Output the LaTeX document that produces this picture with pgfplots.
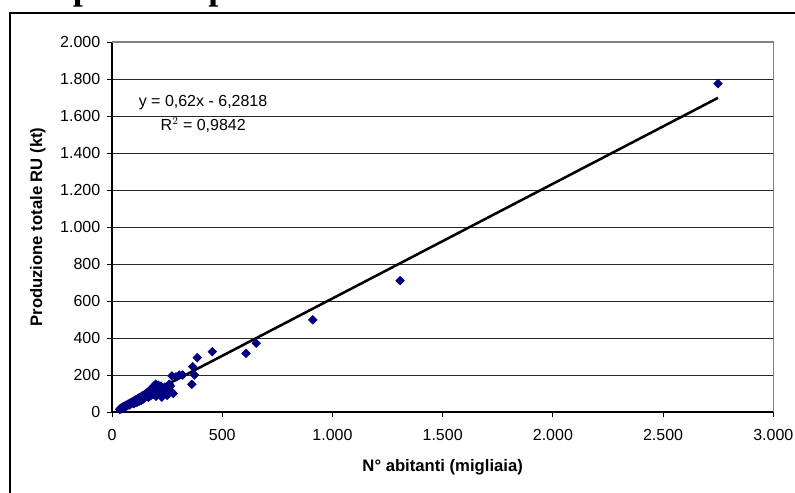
\documentclass[border=0pt]{standalone}
\usepackage{pgfplots}
\pgfplotsset{compat=1.18}
\usepackage{fontspec}
\setmainfont{Liberation Sans}
\newfontfamily\titlefont{Liberation Serif}

\definecolor{navymark}{RGB}{0,0,128}

% abitanti (migliaia) vs produzione totale RU (kt), one row per provincia
\pgfplotstableread{
x y
35 14
38 18
40 20
42 17
45 22
48 25
50 28
52 24
55 30
58 27
60 33
62 36
65 31
68 38
70 35
72 42
75 40
78 45
80 38
82 48
85 44
88 52
90 47
92 55
95 50
98 58
100 45
102 62
105 55
108 66
110 60
112 52
115 70
118 63
120 75
122 58
125 68
128 80
130 72
132 62
135 85
138 76
140 90
142 70
145 82
148 95
150 78
152 88
155 100
158 84
160 105
162 92
165 80
168 110
170 96
172 118
175 88
178 125
180 102
183 130
185 95
188 112
190 140
193 105
195 120
198 150
200 85
203 132
206 110
210 145
214 98
218 125
222 140
226 80
230 115
235 95
240 135
245 105
250 90
255 120
260 150
265 140
270 110
272 195
278 100
290 190
305 200
320 200
362 150
366 245
374 200
387 294
455 326
608 317
654 372
911 498
1307 710
2749 1775
}\datatable

\begin{document}
\begin{tikzpicture}
\useasboundingbox (0,0) rectangle (596.25pt,-369pt);
% chart area frame
\draw[line width=1pt] (7.5pt,-9.75pt) rectangle (610pt,-380pt);
% title above the chart (only its lowest part lies on the page)
\node[anchor=base west, inner sep=0pt, font=\titlefont\bfseries\fontsize{27}{30}\selectfont] at (54.5pt,0.3pt) {p};
\node[anchor=base west, inner sep=0pt, font=\titlefont\bfseries\fontsize{27}{30}\selectfont] at (156pt,0.3pt) {p};

\begin{axis}[
  at={(84pt,-309pt)}, anchor=south west,
  scale only axis, width=496pt, height=277.5pt,
  xmin=0, xmax=3000, ymin=0, ymax=2000,
  xtick distance=500, ytick distance=200,
  scaled ticks=false,
  axis lines*=left,
  axis line style={-, black, line width=0.9pt},
  tick align=outside,
  major tick length=3.75pt,
  tick style={black, line width=0.75pt},
  ymajorgrids,
  grid style={black!85, line width=0.75pt},
  /pgf/number format/.cd, 1000 sep={.}, assume math mode=true,
  /pgfplots/.cd,
  tick label style={font=\fontsize{12}{14}\selectfont},
  xticklabel style={yshift=-5.5pt},
  yticklabel style={xshift=-1.5pt},
  xlabel={N° abitanti (migliaia)},
  ylabel={Produzione totale RU (kt)},
  label style={font=\bfseries\fontsize{12.5}{15}\selectfont},
  xlabel style={at={(axis description cs:0.5,-0.149)}, anchor=center},
  ylabel style={at={(axis description cs:-0.112,0.5)}, anchor=center},
  clip=false,
]
\addplot[only marks, mark=square*, mark size=2.3pt,
  mark options={rotate=45, fill=navymark, draw=navymark}] table[x=x, y=y] {\datatable};
% linear trend line y = 0,62x - 6,2818
\addplot[black, line width=1.9pt, no marks] coordinates {(27,10.46) (2749,1698.1)};
% plot area border on top and right
\draw[black!50, line width=1pt] (axis cs:0,2000) -- (axis cs:3000,2000) -- (axis cs:3000,0);
\node[font=\fontsize{12}{14}\selectfont] at (axis cs:413,1670) {y = 0,62x - 6,2818};
\node[font=\fontsize{12}{14}\selectfont] at (axis cs:414,1549) {R$^2$ = 0,9842};
\end{axis}
\end{tikzpicture}
\end{document}
